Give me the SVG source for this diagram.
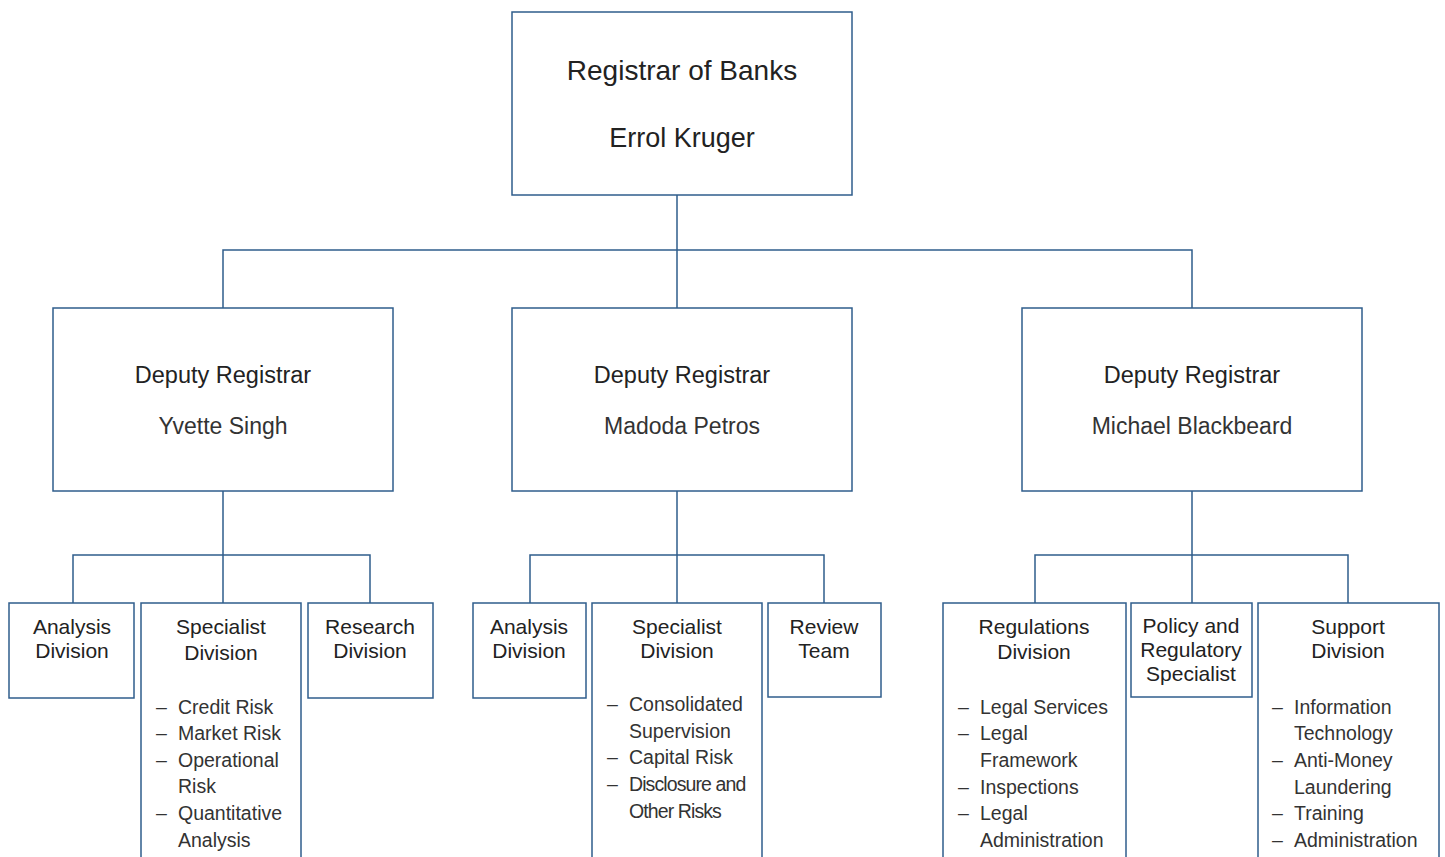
<svg xmlns="http://www.w3.org/2000/svg" width="1445" height="857" viewBox="0 0 1445 857">
<style>
rect{fill:#fff;stroke:#2f5d8c;stroke-width:1.5}
.c line,.c path{stroke:#2f5d8c;stroke-width:1.5;fill:none}
text{font-family:"Liberation Sans",Arial,sans-serif;fill:#222}
.t1{font-size:28px;text-anchor:middle}
.t1n{font-size:27px;text-anchor:middle}
.t2{font-size:23.5px;text-anchor:middle}
.n2{font-size:23px;text-anchor:middle;fill:#333}
.h{font-size:21px;text-anchor:middle}
.l{font-size:19.5px;fill:#333}
.cd{letter-spacing:-0.9px}
</style>
<rect x="0" y="0" width="1445" height="857" style="stroke:none"/>
<g class="c" id="connectors">
<path d="M677 195V308M223 308V250H1192V308"/>
<path d="M223 491V603M73 603V555H370V603"/>
<path d="M677 491V603M530 603V555H824V603"/>
<path d="M1192 491V603M1035 603V555H1348V603"/>
</g>
<g id="registrar"><rect x="512" y="12" width="340" height="183"/>
<text class="t1" x="682" y="80">Registrar of Banks</text><text class="t1n" x="682" y="147">Errol Kruger</text></g>
<g id="dep1"><rect x="53" y="308" width="340" height="183"/>
<text class="t2" x="223" y="383">Deputy Registrar</text><text class="n2" x="223" y="434">Yvette Singh</text></g>
<g id="dep2"><rect x="512" y="308" width="340" height="183"/>
<text class="t2" x="682" y="383">Deputy Registrar</text><text class="n2" x="682" y="434">Madoda Petros</text></g>
<g id="dep3"><rect x="1022" y="308" width="340" height="183"/>
<text class="t2" x="1192" y="383">Deputy Registrar</text><text class="n2" x="1192" y="434">Michael Blackbeard</text></g>

<g id="analysis1"><rect x="9" y="603" width="125" height="95"/>
<text class="h" x="72" y="634">Analysis</text><text class="h" x="72" y="658">Division</text></g>
<g id="specialist1"><rect x="141" y="603" width="160" height="270"/>
<text class="h" x="221" y="634">Specialist</text><text class="h" x="221" y="660">Division</text>
<text class="l"><tspan x="156" y="714">–</tspan><tspan x="178" y="714">Credit Risk</tspan><tspan x="156" y="740">–</tspan><tspan x="178" y="740">Market Risk</tspan><tspan x="156" y="767">–</tspan><tspan x="178" y="767">Operational</tspan><tspan x="178" y="793">Risk</tspan><tspan x="156" y="820">–</tspan><tspan x="178" y="820">Quantitative</tspan><tspan x="178" y="847">Analysis</tspan></text></g>
<g id="research1"><rect x="308" y="603" width="125" height="95"/>
<text class="h" x="370" y="634">Research</text><text class="h" x="370" y="658">Division</text></g>

<g id="analysis2"><rect x="473" y="603" width="113" height="95"/>
<text class="h" x="529" y="634">Analysis</text><text class="h" x="529" y="658">Division</text></g>
<g id="specialist2"><rect x="592" y="603" width="170" height="270"/>
<text class="h" x="677" y="634">Specialist</text><text class="h" x="677" y="658">Division</text>
<text class="l"><tspan x="607" y="711">–</tspan><tspan x="629" y="711">Consolidated</tspan><tspan x="629" y="738">Supervision</tspan><tspan x="607" y="764">–</tspan><tspan x="629" y="764">Capital Risk</tspan><tspan x="607" y="791">–</tspan><tspan class="cd" x="629" y="791">Disclosure and</tspan><tspan class="cd" x="629" y="818">Other Risks</tspan></text></g>
<g id="review2"><rect x="768" y="603" width="113" height="94"/>
<text class="h" x="824" y="634">Review</text><text class="h" x="824" y="658">Team</text></g>

<g id="regulations3"><rect x="943" y="603" width="183" height="270"/>
<text class="h" x="1034" y="634">Regulations</text><text class="h" x="1034" y="659">Division</text>
<text class="l"><tspan x="958" y="714">–</tspan><tspan x="980" y="714">Legal Services</tspan><tspan x="958" y="740">–</tspan><tspan x="980" y="740">Legal</tspan><tspan x="980" y="767">Framework</tspan><tspan x="958" y="794">–</tspan><tspan x="980" y="794">Inspections</tspan><tspan x="958" y="820">–</tspan><tspan x="980" y="820">Legal</tspan><tspan x="980" y="847">Administration</tspan></text></g>
<g id="policy3"><rect x="1131" y="603" width="121" height="94"/>
<text class="h" x="1191" y="633">Policy and</text><text class="h" x="1191" y="657">Regulatory</text><text class="h" x="1191" y="681">Specialist</text></g>
<g id="support3"><rect x="1258" y="603" width="181" height="270"/>
<text class="h" x="1348" y="634">Support</text><text class="h" x="1348" y="658">Division</text>
<text class="l"><tspan x="1272" y="714">–</tspan><tspan x="1294" y="714">Information</tspan><tspan x="1294" y="740">Technology</tspan><tspan x="1272" y="767">–</tspan><tspan x="1294" y="767">Anti-Money</tspan><tspan x="1294" y="794">Laundering</tspan><tspan x="1272" y="820">–</tspan><tspan x="1294" y="820">Training</tspan><tspan x="1272" y="847">–</tspan><tspan x="1294" y="847">Administration</tspan></text></g>
</svg>
